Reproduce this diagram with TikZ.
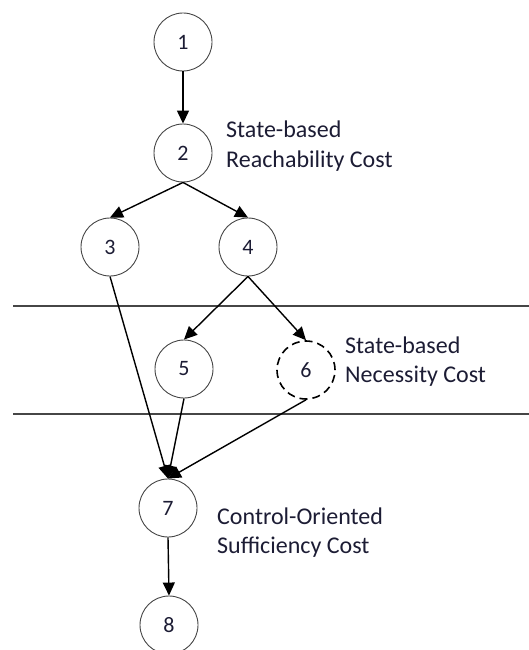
\documentclass[tikz,border=0pt]{standalone}
\usepackage{fontspec}
\setmainfont{Carlito}
\usetikzlibrary{arrows.meta}
\definecolor{txt}{RGB}{28,28,52}
\definecolor{rim}{RGB}{70,70,70}
\tikzset{
  state/.style={circle, draw=rim, line width=0.9pt, minimum size=58pt, inner sep=0pt,
    text=txt, font=\fontsize{22}{26}\selectfont},
  hidden/.style={state, draw=black, line width=1.6pt, dash pattern=on 8pt off 5pt},
  flow/.style={line width=1.4pt, -{Triangle[length=13pt,width=12pt]}},
  band/.style={line width=1.2pt, draw=rim},
  note/.style={anchor=base west, inner sep=0pt, align=left, text=txt,
    font=\fontsize{24}{29}\selectfont}
}
\begin{document}
\begin{tikzpicture}[x=1pt,y=-1pt]
\useasboundingbox (0,0) rectangle (529,650);
% region boundaries
\coordinate (l1a) at (13,306);
\coordinate (l1b) at (529,306);
\coordinate (l2a) at (13,414);
\coordinate (l2b) at (529,414);
\draw[band] (l1a) -- (l1b);
\draw[band] (l2a) -- (l2b);
% states
\node[state] (n1) at (183,42) {1};
\node[state] (n2) at (183,153) {2};
\node[state] (n3) at (110,247) {3};
\node[state] (n4) at (248,247) {4};
\node[state] (n5) at (184,369) {5};
\node[hidden] (n6) at (306,370) {6};
\node[state] (n7) at (168,508) {7};
\node[state] (n8) at (169,625) {8};
% transitions
\draw[flow] (n1.south) -- (n2.north);
\draw[flow] (n2.south) -- (n3.north);
\draw[flow] (n2.south) -- (n4.north);
\draw[flow] (n4.south) -- (n5.north);
\draw[flow] (n4.south) -- (n6.north);
\draw[flow] (n3.south) -- (n7.north);
\draw[flow] (n5.south) -- (n7.north);
\draw[flow] (n6.south) -- (n7.north);
\draw[flow] (n7.south) -- (n8.north);
% cost annotations (anchored at the baseline of the last line)
\node[note] (c1) at (226,167) {State-based\\Reachability Cost};
\node[note] (c2) at (345,382) {State-based\\Necessity Cost};
\node[note] (c3) at (217,553) {Control-Oriented\\Sufficiency Cost};
\end{tikzpicture}
\end{document}
